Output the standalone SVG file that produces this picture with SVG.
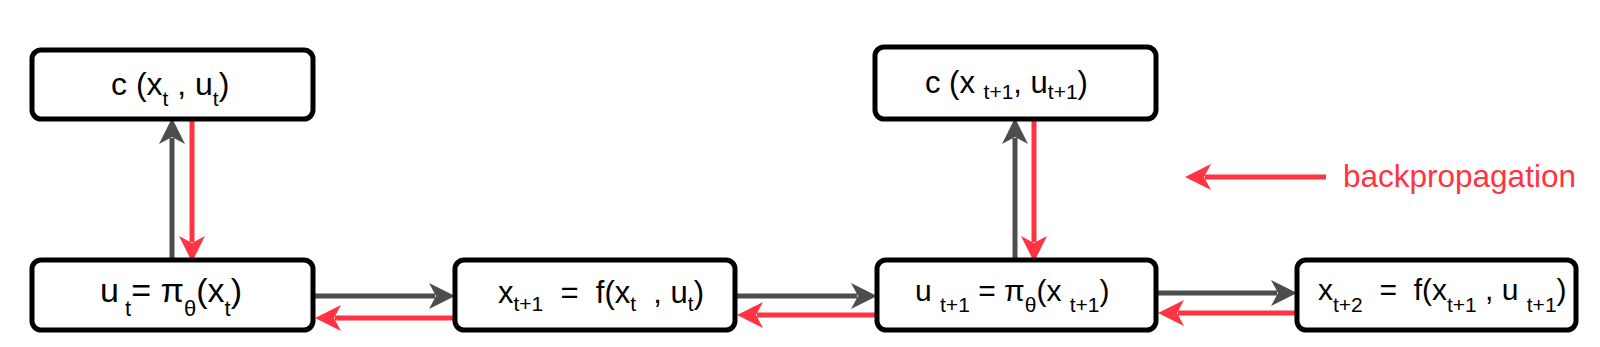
<svg xmlns="http://www.w3.org/2000/svg" width="1600" height="347" viewBox="0 0 1600 347">
<style>
.box{fill:#fff;stroke:#000;stroke-width:5}
.t{font-family:"Liberation Sans",Arial,Helvetica,sans-serif;fill:#000;white-space:pre}
.fwd{stroke:#4d4d4d;stroke-width:5;fill:none}
.bwd{stroke:#ff3341;stroke-width:5;fill:none}
.lbl{font-family:"Liberation Sans",Arial,Helvetica,sans-serif;fill:#ff3341;font-size:31.5px}
</style>
<defs>
<marker id="hg" markerUnits="userSpaceOnUse" viewBox="-8 -14 30 28" markerWidth="30" markerHeight="28" refX="0" refY="0" orient="auto">
<path d="M20,0 L-6,-13 L1,0 L-6,13 Z" fill="#4d4d4d"/>
</marker>
<marker id="hr" markerUnits="userSpaceOnUse" viewBox="-8 -14 30 28" markerWidth="30" markerHeight="28" refX="0" refY="0" orient="auto">
<path d="M20,0 L-6,-13 L1,0 L-6,13 Z" fill="#ff3341"/>
</marker>
</defs>
<rect width="1600" height="347" fill="#fff"/>
<g id="connectors">
<line class="fwd" x1="172" y1="258" x2="172" y2="138" marker-end="url(#hg)"/>
<line class="bwd" x1="192" y1="121" x2="192" y2="242" marker-end="url(#hr)"/>
<line class="fwd" x1="1015" y1="258" x2="1015" y2="138" marker-end="url(#hg)"/>
<line class="bwd" x1="1034" y1="121" x2="1034" y2="242" marker-end="url(#hr)"/>
<line class="fwd" x1="314" y1="296" x2="435" y2="296" marker-end="url(#hg)"/>
<line class="bwd" x1="455" y1="318" x2="335" y2="318" marker-end="url(#hr)"/>
<line class="fwd" x1="736" y1="296" x2="857" y2="296" marker-end="url(#hg)"/>
<line class="bwd" x1="877" y1="315" x2="757" y2="315" marker-end="url(#hr)"/>
<line class="fwd" x1="1157" y1="293" x2="1277" y2="293" marker-end="url(#hg)"/>
<line class="bwd" x1="1297" y1="313" x2="1178" y2="313" marker-end="url(#hr)"/>
<line class="bwd" x1="1326" y1="177" x2="1205" y2="177" marker-end="url(#hr)"/>
</g>
<g id="c_t">
<rect class="box" x="32" y="50" width="281" height="69" rx="9"/>
<text class="t" x="111" y="95" font-size="32">c (x<tspan dy="11" font-size="21">t</tspan><tspan dy="-11"> , u</tspan><tspan dy="11" font-size="21">t</tspan><tspan dy="-11">)</tspan></text>
</g>
<g id="c_t1">
<rect class="box" x="875" y="47" width="281" height="72" rx="9"/>
<text class="t" x="925" y="93" font-size="31">c (x <tspan dy="6" font-size="21">t+1</tspan><tspan dy="-6">, u</tspan><tspan dy="6" font-size="21">t+1</tspan><tspan dy="-6">)</tspan></text>
</g>
<g id="u_t">
<rect class="box" x="32" y="260" width="281" height="70" rx="9"/>
<text class="t" x="100" y="302" font-size="34">u<tspan dy="14" font-size="22"> t</tspan><tspan dy="-14">= π</tspan><tspan dy="14" font-size="22">θ</tspan><tspan dy="-14">(x</tspan><tspan dy="14" font-size="22">t</tspan><tspan dy="-14">)</tspan></text>
</g>
<g id="x_t1">
<rect class="box" x="455" y="260" width="280" height="70" rx="9"/>
<text class="t" x="498" y="303" font-size="31">x<tspan dy="8" font-size="21">t+1</tspan><tspan dy="-8">  =  f(x</tspan><tspan dy="8" font-size="21">t</tspan><tspan dy="-8">  , u</tspan><tspan dy="8" font-size="21">t</tspan><tspan dy="-8">)</tspan></text>
</g>
<g id="u_t1">
<rect class="box" x="877" y="260" width="279" height="70" rx="9"/>
<text class="t" x="915" y="301" font-size="30">u <tspan dy="11" font-size="21">t+1</tspan><tspan dy="-11"> = π</tspan><tspan dy="11" font-size="21">θ</tspan><tspan dy="-11">(x </tspan><tspan dy="11" font-size="21">t+1</tspan><tspan dy="-11">)</tspan></text>
</g>
<g id="x_t2">
<rect class="box" x="1297" y="260" width="279" height="70" rx="9"/>
<text class="t" x="1318" y="300" font-size="30">x<tspan dy="12" font-size="21">t+2</tspan><tspan dy="-12">  =  f(x</tspan><tspan dy="12" font-size="21">t+1</tspan><tspan dy="-12"> , u </tspan><tspan dy="12" font-size="21">t+1</tspan><tspan dy="-12">)</tspan></text>
</g>
<g id="legend">
<text class="lbl" x="1343" y="187">backpropagation</text>
</g>
</svg>
